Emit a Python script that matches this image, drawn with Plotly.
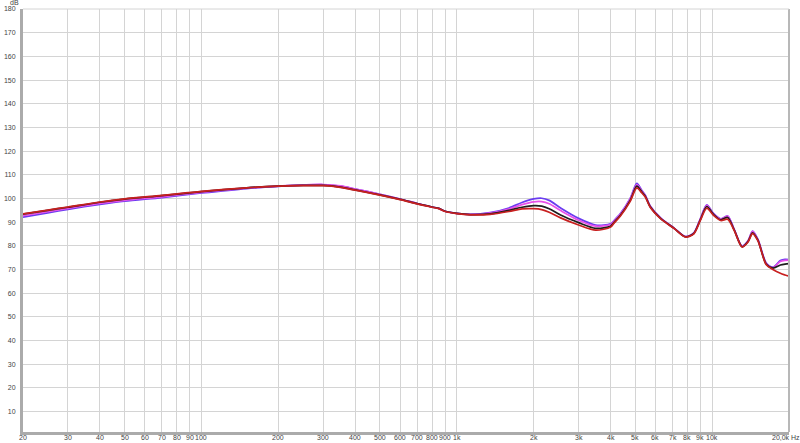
import plotly.graph_objects as go
import math

freqs = [20, 25, 30, 40, 50, 70, 100, 150, 200, 250, 300, 350, 400, 500, 600, 700, 800, 850, 900,
         1000, 1130, 1350, 1600, 1800, 2000, 2150, 2300, 2550, 3000, 3500, 4000, 4120, 4365, 4776,
         5070, 5300, 5480, 5720, 6280, 7100, 7880, 8480, 8980, 9530, 10100, 10800, 11500, 12200,
         13100, 13800, 14400, 15100, 16300, 17300, 18500, 19300, 20000]

blue = [92.1, 93.9, 95.4, 97.5, 98.9, 100.4, 102.3, 104.2, 105.1, 105.6, 105.8, 105.2, 104.0, 101.8,
        99.8, 97.9, 96.4, 95.8, 94.6, 93.7, 93.3, 94.0, 96.0, 98.3, 99.8, 100.1, 99.2, 96.0, 91.6,
        88.8, 89.3, 90.6, 93.5, 100.0, 106.4, 103.5, 101.3, 96.8, 91.8, 87.5, 83.9, 85.5, 91.3,
        97.3, 93.8, 91.4, 92.6, 87.0, 79.9, 82.0, 86.2, 82.8, 72.7, 71.0, 73.8, 74.3, 74.2]

magenta = [92.7, 94.4, 95.8, 97.9, 99.2, 100.7, 102.6, 104.4, 105.2, 105.7, 105.9, 105.3, 104.0, 101.8,
           99.8, 97.9, 96.4, 95.8, 94.6, 93.7, 93.3, 93.8, 95.5, 97.4, 98.6, 98.7, 97.8, 94.9, 90.8,
           88.3, 89.0, 90.4, 93.3, 99.8, 105.8, 103.2, 101.1, 96.7, 91.7, 87.5, 83.9, 85.4, 91.2,
           97.1, 93.6, 91.3, 92.5, 86.9, 79.8, 81.9, 86.1, 82.6, 72.5, 70.8, 73.4, 73.9, 74.0]

black = [93.4, 95.0, 96.3, 98.4, 99.7, 101.2, 102.9, 104.5, 105.2, 105.5, 105.5, 104.8, 103.6, 101.5,
         99.6, 97.8, 96.4, 95.8, 94.6, 93.7, 93.2, 93.5, 95.0, 96.3, 97.0, 96.8, 95.7, 93.0, 89.8,
         87.4, 88.3, 89.8, 92.8, 99.2, 105.2, 102.8, 100.8, 96.5, 91.6, 87.4, 83.8, 85.3, 90.9,
         96.6, 93.4, 91.0, 92.0, 86.7, 79.6, 81.7, 85.5, 82.4, 72.2, 70.6, 71.9, 72.3, 72.5]

red = [93.5, 95.1, 96.4, 98.5, 99.8, 101.3, 103.0, 104.5, 105.2, 105.4, 105.4, 104.7, 103.5, 101.4,
       99.5, 97.7, 96.3, 95.7, 94.5, 93.6, 93.1, 93.3, 94.5, 95.6, 95.7, 95.3, 94.2, 91.8, 88.8,
       86.6, 87.9, 89.5, 92.5, 98.8, 104.5, 102.4, 100.5, 96.3, 91.5, 87.3, 83.7, 85.1, 90.6,
       95.9, 93.0, 90.7, 91.2, 86.5, 79.5, 81.5, 85.2, 82.2, 72.0, 70.0, 68.4, 67.7, 67.2]

series = [("blue", blue, "#6a3cf0"), ("magenta", magenta, "#e850e8"),
          ("black", black, "#1e1e1e"), ("red", red, "#c82020")]

x_tickvals = [20, 30, 40, 50, 60, 70, 80, 90, 100, 200, 300, 400, 500, 600, 700, 800, 900,
              1000, 2000, 3000, 4000, 5000, 6000, 7000, 8000, 9000, 10000, 20000]
x_ticktext = ["20", "30", "40", "50", "60", "70", "80", "90", "100", "200", "300", "400", "500",
              "600", "700", "800", "900", "1k", "2k", "3k", "4k", "5k", "6k", "7k", "8k", "9k",
              "10k", "20,0k Hz"]
y_tickvals = list(range(10, 181, 10))
y_ticktext = [str(v) for v in y_tickvals]

fig = go.Figure()
for name, vals, col in series:
    fig.add_trace(go.Scatter(x=freqs, y=vals, mode="lines", name=name,
                             line=dict(color=col, width=1.7, shape="spline", smoothing=0.8)))

label_font = dict(family="Liberation Sans, Arial, sans-serif", size=7, color="#444444")
annotations = [dict(text="dB", xref="paper", yref="paper",
                    x=-0.003, y=1.003, xanchor="right", yanchor="bottom",
                    showarrow=False, font=dict(size=7, color="#444444"))]
for v, t in zip(x_tickvals, x_ticktext):
    annotations.append(dict(text=t, x=math.log10(v), xref="x", y=0, yref="paper",
                            xanchor="center", yanchor="middle", yshift=-5,
                            xshift=(-3 if v == 20000 else 0),
                            showarrow=False, font=label_font))

fig.update_layout(
    width=800, height=443,
    margin=dict(l=23, r=11, t=9, b=11),
    plot_bgcolor="white", paper_bgcolor="white",
    showlegend=False,
    font=label_font,
    xaxis=dict(type="log", range=[math.log10(20), math.log10(20000)],
               tickvals=x_tickvals, showticklabels=False,
               showgrid=True, gridcolor="#d4d4d4", gridwidth=1,
               showline=True, linecolor="#ababab", linewidth=3,
               ticks="", ticklen=0, automargin=False, zeroline=False),
    yaxis=dict(range=[1.4, 180], tickvals=y_tickvals, ticktext=y_ticktext,
               showgrid=True, gridcolor="#d4d4d4", gridwidth=1,
               showline=True, linecolor="#ababab", linewidth=3,
               ticks="", ticklen=0, ticklabelstandoff=3, automargin=False, zeroline=False,
               tickfont=dict(size=7)),
    annotations=annotations,
)
# right and top edge lines
fig.add_shape(type="line", xref="paper", yref="paper", x0=1, x1=1, y0=0, y1=1,
              line=dict(color="#b8b8b8", width=2))
fig.add_shape(type="line", xref="paper", yref="paper", x0=0, x1=1, y0=1, y1=1,
              line=dict(color="#d4d4d4", width=1))

fig.write_html("out.html", config={"displayModeBar": False},
               post_script="document.body.style.margin='0';document.body.style.overflow='hidden';")
